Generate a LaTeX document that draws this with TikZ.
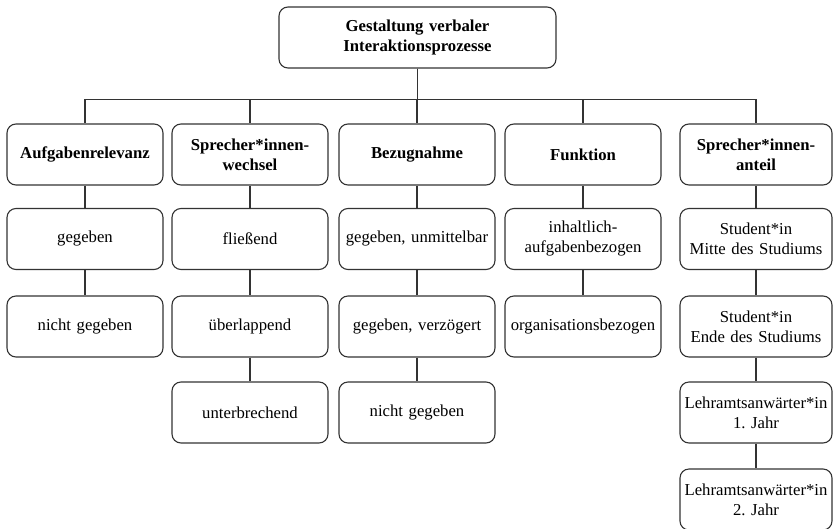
\documentclass[tikz,border=0pt]{standalone}
\usepackage{fontspec}
\setmainfont{Liberation Serif}
\frenchspacing
\begin{document}
\begin{tikzpicture}[x=1pt,y=-1pt,
  box/.style={draw=black!80, line width=1.1pt, rounded corners=9pt, minimum height=61pt,
    minimum width=156pt, inner sep=0pt, align=center, text width=154pt,
    font=\fontsize{16.7}{20}\selectfont},
  head/.style={box, font=\fontsize{16.7}{20}\selectfont\bfseries},
  narrow/.style={minimum width=152pt, text width=152pt},
  conn/.style={draw=black!80, line width=1.1pt}]
\useasboundingbox (0,0) rectangle (833,528);
% top
\node[head, minimum width=277pt, text width=270pt] (top) at (417.5,37.5) {Gestaltung verbaler\\Interaktionsprozesse};
% headers
\node[head] (h1) at (85,154.5) {Aufgabenrelevanz};
\node[head] (h2) at (250,154.5) {Sprecher*innen-\\wechsel};
\node[head] (h3) at (417,154.5) {Bezugnahme};
\node[head] (h4) at (583,154.5) {Funktion};
\node[head, narrow] (h5) at (756,154.5) {Sprecher*innen-\\anteil};
% column 1
\node[box] (a1) at (85,239) {gegeben};
\node[box] (a2) at (85,326.5) {nicht gegeben};
% column 2
\node[box] (b1) at (250,239) {fließend};
\node[box] (b2) at (250,326.5) {überlappend};
\node[box] (b3) at (250,412.5) {unterbrechend};
% column 3
\node[box] (c1) at (417,239) {gegeben, unmittelbar};
\node[box] (c2) at (417,326.5) {gegeben, verzögert};
\node[box] (c3) at (417,412.5) {nicht gegeben};
% column 4
\node[box] (d1) at (583,239) {inhaltlich-\\aufgabenbezogen};
\node[box] (d2) at (583,326.5) {organisationsbezogen};
% column 5
\node[box, narrow] (e1) at (756,239) {Student*in\\Mitte des Studiums};
\node[box, narrow] (e2) at (756,326.5) {Student*in\\Ende des Studiums};
\node[box, narrow] (e3) at (756,412.5) {Lehramtsanwärter*in\\1. Jahr};
\node[box, narrow] (e4) at (756,499.5) {Lehramtsanwärter*in\\2. Jahr};
% connectors
\foreach \h in {h1,h2,h3,h4,h5}
  \draw[conn] (top.south) -- ++(0,30.5) -| (\h.north);
\draw[conn] (h1) -- (a1) (a1) -- (a2);
\draw[conn] (h2) -- (b1) (b1) -- (b2) (b2) -- (b3);
\draw[conn] (h3) -- (c1) (c1) -- (c2) (c2) -- (c3);
\draw[conn] (h4) -- (d1) (d1) -- (d2);
\draw[conn] (h5) -- (e1) (e1) -- (e2) (e2) -- (e3) (e3) -- (e4);
\end{tikzpicture}
\end{document}
